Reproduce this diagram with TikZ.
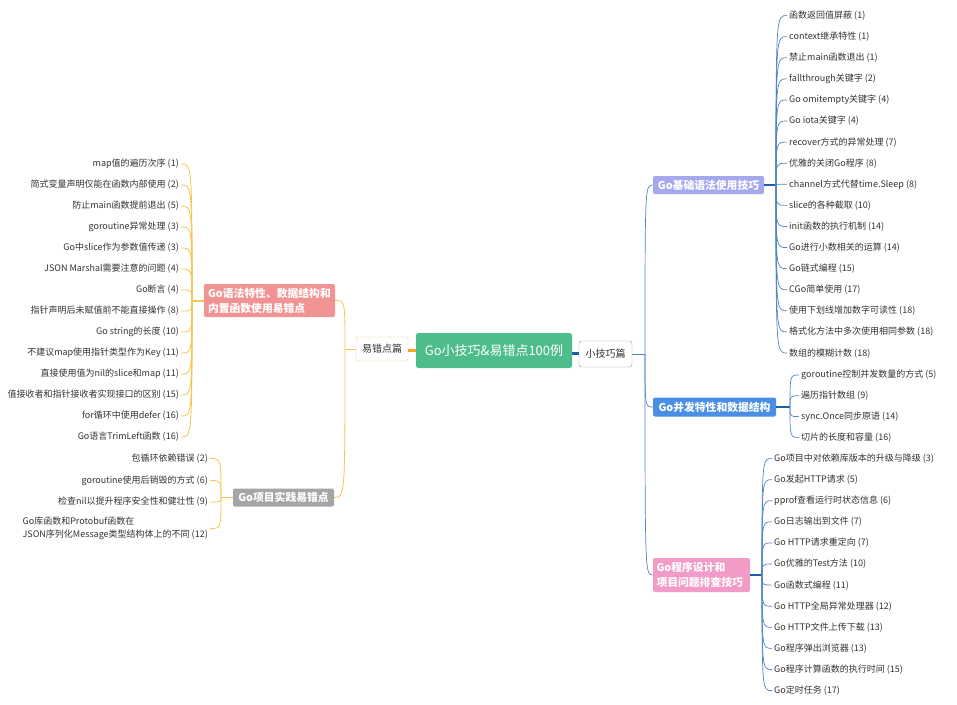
\documentclass[tikz,border=0pt]{standalone}
\usepackage{fontspec}
\setmainfont{Noto Sans CJK SC}
\definecolor{yel}{HTML}{F6C552}
\definecolor{orangeC}{HTML}{F5A623}
\definecolor{blueL}{HTML}{4F86C2}
\definecolor{blueD}{HTML}{1D5EA8}
\definecolor{greenC}{HTML}{4DBE8B}
\definecolor{salmon}{HTML}{F09392}
\definecolor{grayBox}{HTML}{A5A5A5}
\definecolor{lav}{HTML}{A6A8EE}
\definecolor{blueBox}{HTML}{4A8EE6}
\definecolor{pinkBox}{HTML}{F29BC7}
\definecolor{txt}{HTML}{333333}
\definecolor{yborder}{HTML}{F5CF7A}
\tikzset{
  item/.style={font=\fontsize{9}{11}\selectfont, text=txt, inner sep=2pt},
  itemL/.style={item, anchor=east},
  itemR/.style={item, anchor=west},
  topicbox/.style={rounded corners=2pt, text=white, inner sep=0pt,
    font=\fontsize{10.8}{15}\selectfont\bfseries, align=left},
  subbox/.style={rounded corners=2.5pt, fill=white, inner sep=0pt,
    font=\fontsize{10}{12}\selectfont, text=txt},
  ycurve/.style={draw=yel, line width=0.8pt},
  bcurve/.style={draw=blueL, line width=0.7pt},
}
\begin{document}
\begin{tikzpicture}[x=1pt,y=-1pt]
\useasboundingbox (0,0) rectangle (957,704);
\fill[white] (0,0) rectangle (957,704);

% central
\node[fill=greenC, rounded corners=2.5pt, text=white, minimum width=156pt, minimum height=35pt, inner sep=0pt,
  font=\fontsize{13}{15}\selectfont] (c) at (494,350.5) {Go小技巧\&易错点100例};
\node[subbox, draw=yborder, minimum width=52pt, minimum height=24pt] (yc) at (382,349) {易错点篇};
\node[subbox, draw=gray!80, minimum width=53pt, minimum height=26pt] (xj) at (605.5,354) {小技巧篇};
\draw[orangeC, line width=3pt] (c.west |- 0,350) -- (yc.east |- 0,350);
\draw[blueD, line width=3pt] (c.east |- 0,353) -- (xj.west |- 0,353);

% left topics
\node[topicbox, fill=salmon, minimum width=131pt, minimum height=33pt, text width=123pt] (t1) at (269.5,300.5)
  {Go语法特性、数据结构和\\内置函数使用易错点};
\node[topicbox, fill=grayBox, minimum width=101pt, minimum height=18pt, align=center] (t2) at (283.5,497.5) {Go项目实践易错点};

\coordinate (ys) at (345,349);
\draw[ycurve] (yc.west) -- (ys);
\draw[ycurve] (ys) .. controls (ys |- t1.east) and (ys |- t1.east) .. (t1.east);
\draw[ycurve] (ys) .. controls (ys |- t2.east) and (ys |- t2.east) .. (t2.east);

% right topics
\node[topicbox, fill=lav, minimum width=111pt, minimum height=18pt, align=center] (r1) at (708.5,185) {Go基础语法使用技巧};
\node[topicbox, fill=blueBox, minimum width=123pt, minimum height=19pt, align=center] (r2) at (714.5,407) {Go并发特性和数据结构};
\node[topicbox, fill=pinkBox, minimum width=97pt, minimum height=34pt, text width=90pt] (r3) at (701.5,575)
  {Go程序设计和\\项目问题排查技巧};

\coordinate (bs) at (645,354);
\draw[bcurve, line width=1pt] (xj.east) -- (bs);
\foreach \r in {r1,r2,r3}
  \draw[bcurve] (bs) .. controls (bs |- \r.west) and (bs |- \r.west) .. (\r.west);

% left items group 1
\coordinate (s1) at (192,301);
\draw[ycurve, line width=1.2pt] (t1.west |- s1) -- (s1);
\foreach \t [count=\i] in {{map值的遍历次序 (1)},{简式变量声明仅能在函数内部使用 (2)},{防止main函数提前退出 (5)},
  {goroutine异常处理 (3)},{Go中slice作为参数值传递 (3)},{JSON Marshal需要注意的问题 (4)},{Go断言 (4)},
  {指针声明后未赋值前不能直接操作 (8)},{Go string的长度 (10)},{不建议map使用指针类型作为Key (11)},
  {直接使用值为nil的slice和map (11)},{值接收者和指针接收者实现接口的区别 (15)},{for循环中使用defer (16)},
  {Go语言TrimLeft函数 (16)}} {
  \node[itemL] (L\i) at (181,{164+(\i-1)*21}) {\t};
  \draw[ycurve] (s1) .. controls (s1 |- L\i.east) and (s1 |- L\i.east) .. (L\i.east);
}

% left items group 2
\coordinate (s2) at (221,497.5);
\draw[ycurve, line width=1.2pt] (t2.west) -- (s2);
\node[itemL] (P1) at (210,458.5) {包循环依赖错误 (2)};
\node[itemL] (P2) at (210,480.5) {goroutine使用后销毁的方式 (6)};
\node[itemL] (P3) at (210,502) {检查nil以提升程序安全性和健壮性 (9)};
\node[itemL, align=left, font=\fontsize{9}{12.5}\selectfont] (P4) at (210,528.5) {Go库函数和Protobuf函数在\\JSON序列化Message类型结构体上的不同 (12)};
\foreach \p in {P1,P2,P3,P4}
  \draw[ycurve] (s2) .. controls (s2 |- \p.east) and (s2 |- \p.east) .. (\p.east);

% right items group 1
\coordinate (q1) at (776,185);
\draw[bcurve, draw=blueD, line width=1.2pt] (r1.east) -- (q1);
\foreach \t [count=\i] in {{函数返回值屏蔽 (1)},{context继承特性 (1)},{禁止main函数退出 (1)},{fallthrough关键字 (2)},
  {Go omitempty关键字 (4)},{Go iota关键字 (4)},{recover方式的异常处理 (7)},{优雅的关闭Go程序 (8)},
  {channel方式代替time.Sleep (8)},{slice的各种截取 (10)},{init函数的执行机制 (14)},{Go进行小数相关的运算 (14)},
  {Go链式编程 (15)},{CGo简单使用 (17)},{使用下划线增加数字可读性 (18)},{格式化方法中多次使用相同参数 (18)},
  {数组的模糊计数 (18)}} {
  \node[itemR] (A\i) at (787,{15.5+(\i-1)*21.1}) {\t};
  \draw[bcurve] (q1) .. controls (q1 |- A\i.west) and (q1 |- A\i.west) .. (A\i.west);
}

% right items group 2
\coordinate (q2) at (790,407);
\draw[bcurve, draw=blueD, line width=1.2pt] (r2.east) -- (q2);
\foreach \t [count=\i] in {{goroutine控制并发数量的方式 (5)},{遍历指针数组 (9)},{sync.Once同步原语 (14)},{切片的长度和容量 (16)}} {
  \node[itemR] (B\i) at (799,{375+(\i-1)*20.8}) {\t};
  \draw[bcurve] (q2) .. controls (q2 |- B\i.west) and (q2 |- B\i.west) .. (B\i.west);
}

% right items group 3
\coordinate (q3) at (762,575);
\draw[bcurve, draw=blueD, line width=1.2pt] (r3.east) -- (q3);
\foreach \t [count=\i] in {{Go项目中对依赖库版本的升级与降级 (3)},{Go发起HTTP请求 (5)},{pprof查看运行时状态信息 (6)},
  {Go日志输出到文件 (7)},{Go HTTP请求重定向 (7)},{Go优雅的Test方法 (10)},{Go函数式编程 (11)},
  {Go HTTP全局异常处理器 (12)},{Go HTTP文件上传下载 (13)},{Go程序弹出浏览器 (13)},{Go程序计算函数的执行时间 (15)},
  {Go定时任务 (17)}} {
  \node[itemR] (C\i) at (772,{458.5+(\i-1)*21.1}) {\t};
  \draw[bcurve] (q3) .. controls (q3 |- C\i.west) and (q3 |- C\i.west) .. (C\i.west);
}
\end{tikzpicture}
\end{document}
